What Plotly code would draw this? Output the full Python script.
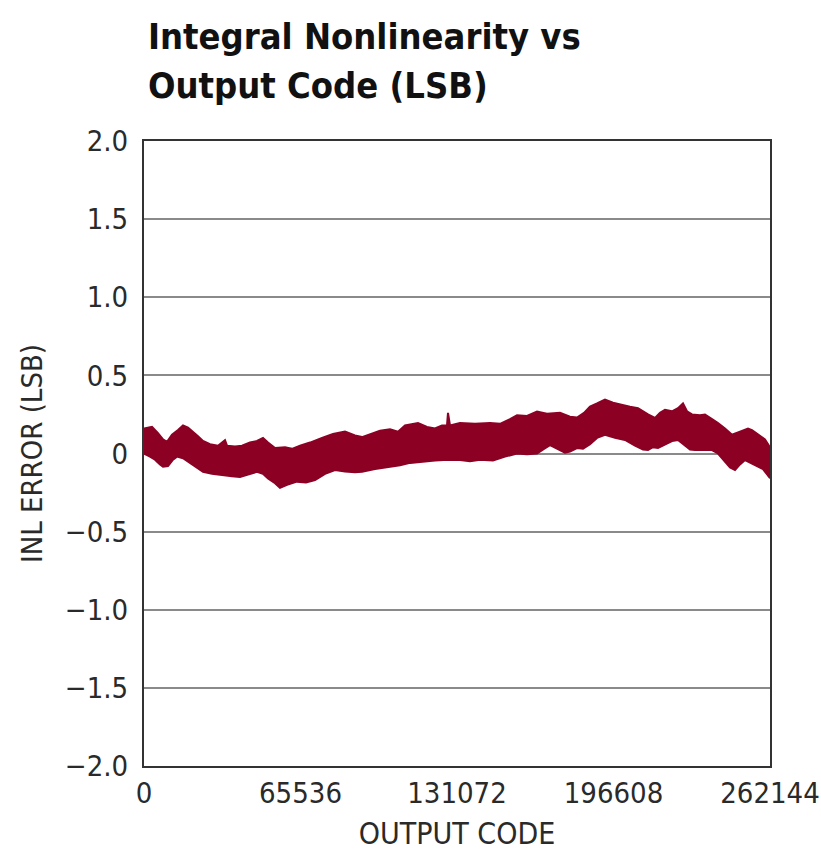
import plotly.graph_objects as go

# Upper and lower edges of the INL error band (code, LSB)
upper_code = [0, 3350, 5860, 7960, 9630, 11730, 14240, 16330, 18430, 20520,
              22610, 24710, 27640, 30990, 33920, 34760, 38110, 41040, 44390, 47320,
              49830, 51930, 54860, 59050, 61980, 65330, 69520, 74540, 79140, 84170,
              88360, 91290, 95480, 98830, 103020, 106370, 109300, 114740, 118510, 121860,
              124790, 126890, 127300, 128140, 132330, 138610, 144900, 149080, 153270, 156200,
              160390, 164570, 168760, 174200, 178390, 181320, 184260, 186770, 189700, 193050,
              196400, 200170, 203520, 206870, 211060, 213990, 216080, 218170, 221100, 223620,
              225710, 227390, 229480, 232830, 234930, 237860, 240370, 243300, 246230, 249580,
              252930, 254610, 257120, 260050, 262144]
upper_inl = [0.16, 0.17, 0.13, 0.09, 0.075, 0.12, 0.15, 0.18, 0.165, 0.14,
             0.11, 0.08, 0.06, 0.05, 0.085, 0.05, 0.045, 0.05, 0.07, 0.08,
             0.10, 0.07, 0.035, 0.04, 0.03, 0.05, 0.07, 0.10, 0.125, 0.14,
             0.115, 0.105, 0.13, 0.145, 0.155, 0.14, 0.18, 0.195, 0.17, 0.16,
             0.18, 0.18, 0.26, 0.18, 0.195, 0.19, 0.195, 0.19, 0.22, 0.245,
             0.24, 0.268, 0.255, 0.26, 0.235, 0.23, 0.26, 0.30, 0.32, 0.345,
             0.325, 0.31, 0.30, 0.29, 0.25, 0.228, 0.26, 0.28, 0.27, 0.29,
             0.32, 0.27, 0.25, 0.245, 0.25, 0.22, 0.195, 0.16, 0.12, 0.14,
             0.16, 0.15, 0.12, 0.09, 0.04]

lower_code = [0, 2510, 4610, 6700, 7960, 10050, 12140, 13820, 16330, 19260,
              22200, 24710, 28480, 33080, 36850, 40200, 43560, 47320, 49830, 51930,
              54860, 56950, 59890, 64070, 67840, 71610, 75800, 79980, 84170, 88360,
              91290, 96730, 102180, 107200, 111400, 116420, 121860, 127300, 132330, 136520,
              140710, 146150, 151180, 156200, 160390, 164570, 167500, 170020, 173370, 176300,
              178390, 181320, 183840, 186770, 189700, 193050, 197240, 201420, 205610, 208960,
              211060, 213150, 215240, 218170, 221100, 223620, 226550, 228650, 230740, 234090,
              237860, 240370, 243300, 245390, 247490, 249580, 251680, 253770, 257120, 259210,
              262144]
lower_inl = [0.0, -0.02, -0.04, -0.07, -0.085, -0.08, -0.04, -0.02, -0.03, -0.06,
             -0.09, -0.117, -0.13, -0.138, -0.145, -0.15, -0.135, -0.117, -0.13, -0.16,
             -0.19, -0.22, -0.2, -0.18, -0.185, -0.17, -0.13, -0.106, -0.115, -0.12,
             -0.117, -0.1, -0.085, -0.075, -0.06, -0.053, -0.045, -0.04, -0.042, -0.05,
             -0.04, -0.045, -0.02, 0.0, -0.005, 0.0, 0.03, 0.054, 0.03, 0.005,
             0.012, 0.035, 0.03, 0.06, 0.1, 0.12, 0.1, 0.087, 0.05, 0.025,
             0.022, 0.04, 0.035, 0.06, 0.08, 0.087, 0.05, 0.025, 0.022, 0.02,
             0.022, 0.0, -0.053, -0.09, -0.106, -0.07, -0.042, -0.06, -0.085, -0.1,
             -0.157]

x_ticks = [0, 65536, 131072, 196608, 262144]
x_tick_text = ["0", "65536", "131072", "196608", "262144"]
y_ticks = [-2.0, -1.5, -1.0, -0.5, 0, 0.5, 1.0, 1.5, 2.0]
y_tick_text = ["\u22122.0", "\u22121.5", "\u22121.0", "\u22120.5", "0", "0.5", "1.0", "1.5", "2.0"]

BAND = "rgb(139,0,35)"
NARROW = "DejaVu Sans Condensed, Liberation Sans Narrow, sans-serif"
TEXT = "#2a2a2a"

fig = go.Figure()
fig.add_trace(go.Scatter(
    x=upper_code + lower_code[::-1],
    y=upper_inl + lower_inl[::-1],
    mode="lines",
    fill="toself",
    fillcolor=BAND,
    line=dict(color=BAND, width=2),
    hoverinfo="skip",
    showlegend=False,
))

W, H = 821, 859
L, R, T, B = 144, 51, 141, 93
plot_h = H - T - B


def py(pix):
    # pixel row -> paper coordinate
    return (H - B - pix) / plot_h


fig.update_layout(
    width=W, height=H,
    margin=dict(l=L, r=R, t=T, b=B, autoexpand=False),
    paper_bgcolor="white",
    plot_bgcolor="white",
    font=dict(family=NARROW, size=29, color=TEXT),
    xaxis=dict(
        range=[0, 262144],
        tickvals=x_ticks, ticktext=x_tick_text,
        showgrid=False, zeroline=False,
        showline=True, mirror=True, linecolor="#333333", linewidth=2,
        ticks="", ticklen=0, ticklabeloverflow="allow", automargin=False,
        title=dict(text="OUTPUT CODE", font=dict(family=NARROW, size=30, color=TEXT), standoff=14),
        tickfont=dict(family=NARROW, size=29, color=TEXT),
    ),
    yaxis=dict(
        range=[-2.0, 2.0],
        tickvals=y_ticks, ticktext=y_tick_text,
        showgrid=True, gridcolor="#8a8a8a", gridwidth=1.5,
        zeroline=False,
        showline=True, mirror=True, linecolor="#333333", linewidth=2,
        ticks="", ticklen=0, ticklabelstandoff=8, automargin=False,
        title=dict(text="INL ERROR (LSB)", font=dict(family=NARROW, size=29, color=TEXT), standoff=14),
        tickfont=dict(family=NARROW, size=29, color=TEXT),
    ),
    annotations=[
        dict(text="<b>Integral Nonlinearity vs</b>", x=0, xref="paper", xanchor="left", xshift=2,
             y=py(37), yref="paper", yanchor="middle", showarrow=False,
             font=dict(family=NARROW, size=36, color="#111111")),
        dict(text="<b>Output Code (LSB)</b>", x=0, xref="paper", xanchor="left", xshift=2,
             y=py(85), yref="paper", yanchor="middle", showarrow=False,
             font=dict(family=NARROW, size=36, color="#111111")),
    ],
)

fig.write_html("out.html")
